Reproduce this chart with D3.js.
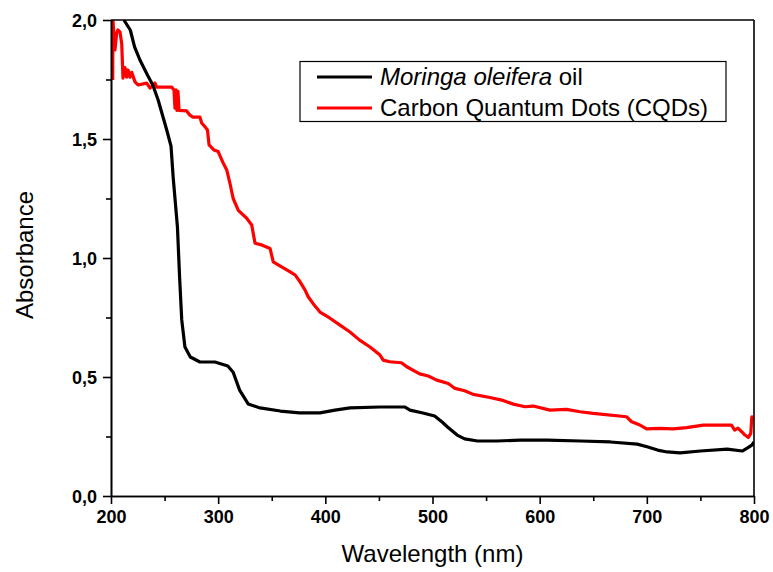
<!DOCTYPE html>
<html>
<head>
<meta charset="utf-8">
<script src="https://cdn.jsdelivr.net/npm/d3@7"></script>
<style>
  body { margin: 0; background: #fff; }
  text { font-family: "Liberation Sans", Arial, sans-serif; }
</style>
</head>
<body>
<svg id="chart"></svg>
<script>
const width = 773;
const height = 572;
const margin = { top: 20, right: 19, bottom: 76, left: 111 };

// Moringa oleifera oil: wavelength (nm) and absorbance
const moringaWl = [212, 218, 222, 227, 234, 239, 244, 248, 252, 256, 258, 262, 264, 266, 269, 274, 283, 297, 309, 314, 320, 328, 339, 358, 376, 395, 409, 423, 451, 474, 479, 491, 502, 509, 514, 523, 530, 542, 560, 582, 607, 638, 666, 691, 701, 710, 719, 731, 750, 775, 789, 794, 798, 800];
const moringaAbs = [2.0, 1.958, 1.887, 1.832, 1.769, 1.727, 1.664, 1.601, 1.538, 1.47, 1.34, 1.13, 0.92, 0.74, 0.626, 0.584, 0.563, 0.563, 0.546, 0.52, 0.445, 0.387, 0.37, 0.357, 0.349, 0.349, 0.361, 0.37, 0.374, 0.374, 0.361, 0.349, 0.336, 0.311, 0.29, 0.256, 0.24, 0.231, 0.231, 0.235, 0.235, 0.231, 0.227, 0.218, 0.206, 0.193, 0.185, 0.181, 0.189, 0.197, 0.189, 0.202, 0.214, 0.227];

// Carbon Quantum Dots (CQDs)
const cqdWl = [201.6, 201.8, 203.7, 205.3, 206.4, 208.4, 210, 211.2, 213, 214.6, 215.9, 217.7, 219.3, 222.4, 225.2, 233.3, 236.4, 241, 242.6, 256.6, 258.8, 259.7, 260.7, 261.6, 262.5, 263.5, 270.6, 273.7, 276.5, 283, 284.6, 288, 290, 291.5, 296, 300, 304.8, 308, 311, 314, 318.8, 326.6, 331.3, 334.4, 340.6, 348.4, 351.4, 356, 364, 371.7, 376.4, 381, 384, 390, 395, 404, 413.7, 423, 432, 441.7, 451, 454, 460, 471, 476, 488, 496, 504, 514.7, 521, 530, 538, 553.6, 564.6, 575.4, 586.3, 594, 609.6, 625, 637.6, 650, 681, 685.8, 693.6, 699.8, 712, 724.7, 737, 752.7, 779, 782, 785, 788.5, 791.6, 794.7, 797, 798, 799];
const cqdAbs = [1.748, 2.0, 1.874, 1.945, 1.958, 1.95, 1.9, 1.756, 1.8, 1.76, 1.79, 1.76, 1.78, 1.74, 1.727, 1.735, 1.714, 1.735, 1.718, 1.718, 1.706, 1.63, 1.706, 1.62, 1.70, 1.62, 1.618, 1.60, 1.592, 1.592, 1.567, 1.55, 1.538, 1.475, 1.454, 1.447, 1.398, 1.37, 1.314, 1.25, 1.20, 1.167, 1.139, 1.062, 1.055, 1.04, 0.984, 0.971, 0.95, 0.929, 0.90, 0.866, 0.837, 0.80, 0.773, 0.748, 0.718, 0.689, 0.655, 0.626, 0.592, 0.571, 0.564, 0.56, 0.543, 0.513, 0.504, 0.487, 0.473, 0.452, 0.442, 0.427, 0.414, 0.403, 0.386, 0.375, 0.378, 0.361, 0.364, 0.354, 0.347, 0.333, 0.312, 0.298, 0.282, 0.284, 0.282, 0.287, 0.298, 0.298, 0.277, 0.285, 0.27, 0.256, 0.246, 0.263, 0.333, 0.319];

const xTicks = [200, 300, 400, 500, 600, 700, 800];
const xMinor = [250, 350, 450, 550, 650, 750];
const yTicks = [0, 0.5, 1.0, 1.5, 2.0];
const yMinor = [0.25, 0.75, 1.25, 1.75];

const innerW = width - margin.left - margin.right;
const innerH = height - margin.top - margin.bottom;

const svg = d3.select("#chart")
    .attr("width", width)
    .attr("height", height);

const g = svg.append("g")
    .attr("transform", `translate(${margin.left}, ${margin.top})`);

const x = d3.scaleLinear().domain([200, 800]).range([0, innerW]);
const y = d3.scaleLinear().domain([0, 2]).range([innerH, 0]);

const fmt = d => d3.format(".1f")(d).replace(".", ",");

// keep curves inside the frame
g.append("clipPath").attr("id", "clip")
    .append("rect").attr("width", innerW).attr("height", innerH);

const line = d3.line()
    .x(d => x(d[0]))
    .y(d => y(d[1]));

const series = [
    { name: "CQD", wl: cqdWl, abs: cqdAbs, color: "#ff0000" },
    { name: "Moringa", wl: moringaWl, abs: moringaAbs, color: "#000000" }
];

g.append("g").attr("clip-path", "url(#clip)")
    .selectAll("path")
    .data(series)
    .enter()
    .append("path")
    .attr("fill", "none")
    .attr("stroke", d => d.color)
    .attr("stroke-width", 3.2)
    .attr("stroke-linejoin", "round")
    .attr("d", d => line(d.wl.map((w, i) => [w, d.abs[i]])));

// top and right frame
g.append("line").attr("x1", 0).attr("x2", innerW).attr("y1", 0).attr("y2", 0)
    .attr("stroke", "#000").attr("stroke-width", 1.6);
g.append("line").attr("x1", innerW).attr("x2", innerW).attr("y1", 0).attr("y2", innerH)
    .attr("stroke", "#000").attr("stroke-width", 1.6);

// Axes
const xAxis = g.append("g")
    .attr("transform", `translate(0, ${innerH})`)
    .call(d3.axisBottom(x).tickValues(xTicks).tickSize(8).tickPadding(4).tickSizeOuter(0).tickFormat(d3.format("d")));
xAxis.append("g")
    .call(d3.axisBottom(x).tickValues(xMinor).tickSize(5).tickSizeOuter(0).tickFormat(""));

const yAxis = g.append("g")
    .call(d3.axisLeft(y).tickValues(yTicks).tickSize(8).tickPadding(6).tickSizeOuter(0).tickFormat(fmt));
yAxis.append("g")
    .call(d3.axisLeft(y).tickValues(yMinor).tickSize(5).tickSizeOuter(0).tickFormat(""));

g.selectAll(".domain").attr("stroke", "#000").attr("stroke-width", 1.6);
g.selectAll(".tick line").attr("stroke", "#000").attr("stroke-width", 1.6);
g.selectAll(".tick text")
    .attr("fill", "#000")
    .style("font-family", "'Liberation Sans', Arial, sans-serif")
    .style("font-size", "18px")
    .style("font-weight", "bold");
xAxis.selectAll(".tick text").attr("dy", "0.85em");
yAxis.selectAll(".tick text").attr("dy", "0.36em");

// Axis titles
svg.append("text")
    .attr("x", margin.left + innerW / 2)
    .attr("y", 562)
    .attr("text-anchor", "middle")
    .style("font-size", "24px")
    .text("Wavelength (nm)");

svg.append("text")
    .attr("transform", `translate(33, ${margin.top + innerH / 2 - 3}) rotate(-90)`)
    .attr("text-anchor", "middle")
    .style("font-size", "24px")
    .text("Absorbance");

// Legend
const legend = svg.append("g");
legend.append("rect")
    .attr("x", 300).attr("y", 61.5)
    .attr("width", 426).attr("height", 60)
    .attr("fill", "#fff").attr("stroke", "#000").attr("stroke-width", 1.2);

const legendItems = [
    { color: "#000", y: 77 },
    { color: "#ff0000", y: 108 }
];
legend.selectAll("line")
    .data(legendItems)
    .enter()
    .append("line")
    .attr("x1", 317).attr("x2", 372)
    .attr("y1", d => d.y).attr("y2", d => d.y)
    .attr("stroke", d => d.color)
    .attr("stroke-width", 3);

const t1 = legend.append("text")
    .attr("x", 380).attr("y", 85)
    .style("font-size", "24px");
t1.append("tspan").style("font-style", "italic").text("Moringa oleifera");
t1.append("tspan").text(" oil");

legend.append("text")
    .attr("x", 380).attr("y", 116)
    .style("font-size", "24px")
    .text("Carbon Quantum Dots (CQDs)");
</script>
</body>
</html>
